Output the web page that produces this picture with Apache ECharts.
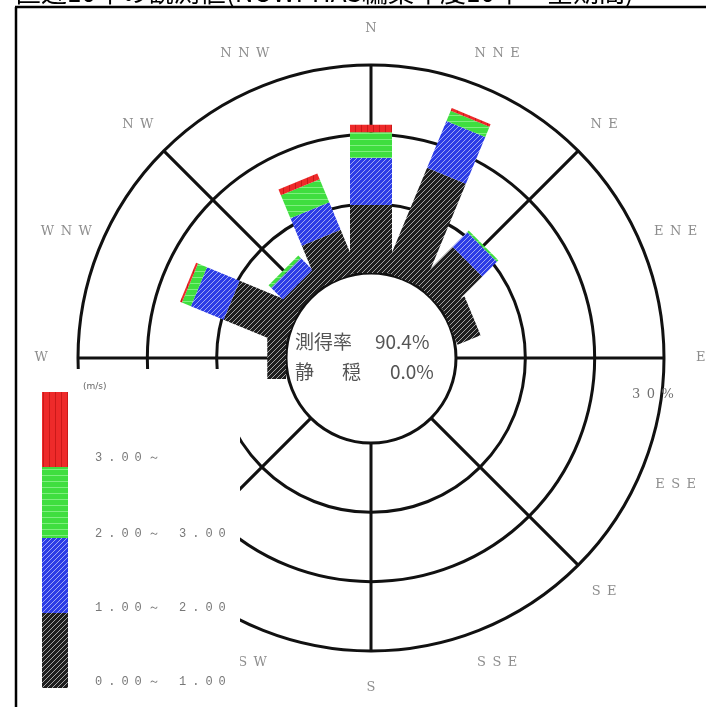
<!DOCTYPE html>
<html>
<head>
<meta charset="utf-8">
<script src="https://cdn.jsdelivr.net/npm/echarts@6/dist/echarts.min.js"></script>
<style>
  html, body { margin: 0; padding: 0; background: #fff; }
  #chart { width: 706px; height: 707px; }
</style>
</head>
<body>
<div id="chart"></div>
<script>
// 16 compass directions, clockwise from north
const directions = ['N', 'NNE', 'NE', 'ENE', 'E', 'ESE', 'SE', 'SSE', 'S', 'SSW', 'SW', 'WSW', 'W', 'WNW', 'NW', 'NNW'];

// Occurrence frequency (%) per direction, one array per wind-speed class (m/s)
const speed0to1  = [9.8, 16.2, 7.4, 3.6, 0, 0, 0, 0, 0, 0, 0, 0, 2.7, 9.5, 2.7, 6.5];
const speed1to2  = [6.8,  7.3, 3.0, 0,   0, 0, 0, 0, 0, 0, 0, 0, 0,   5.1, 2.4, 4.3];
const speed2to3  = [3.7,  1.6, 0.3, 0,   0, 0, 0, 0, 0, 0, 0, 0, 0,   1.4, 0.5, 3.6];
const speed3plus = [1.1,  0.4, 0,   0,   0, 0, 0, 0, 0, 0, 0, 0, 0,   0.3, 0,   0.9];

const speedLabels = ['0.00～ 1.00', '1.00～ 2.00', '2.00～ 3.00', '3.00～'];
const ringTicks = [10, 20, 30];          // percentage rings
const ringLabel = '30%';
const obsRateText = '90.4%';
const calmText = '0.0%';
const titleText = '直近10年の観測値(NOWPHAS編集年度10年・全期間)';

const classValues = [speed0to1, speed1to2, speed2to3, speed3plus];

// hatched fills for the speed classes
function makePattern(bg, fg, kind, size) {
  const s = size || 6;
  const c = document.createElement('canvas');
  c.width = s; c.height = s;
  const g = c.getContext('2d');
  g.fillStyle = bg; g.fillRect(0, 0, s, s);
  g.strokeStyle = fg; g.lineWidth = 1;
  g.beginPath();
  if (kind === 'diag') {
    g.moveTo(0, s); g.lineTo(s, 0);
    g.moveTo(-s / 2, s / 2); g.lineTo(s / 2, -s / 2);
    g.moveTo(s / 2, s * 1.5); g.lineTo(s * 1.5, s / 2);
  } else if (kind === 'vert') {
    g.moveTo(1.5, 0); g.lineTo(1.5, s);
  } else if (kind === 'horiz') {
    g.moveTo(0, 1.5); g.lineTo(s, 1.5);
  }
  g.stroke();
  return { image: c, repeat: 'repeat' };
}
const classFills = [
  makePattern('#1e1e1e', 'rgba(255,255,255,0.6)', 'diag', 5),
  makePattern('#2c3ce6', 'rgba(255,255,255,0.55)', 'diag', 5),
  makePattern('#3fde3f', 'rgba(190,255,190,0.5)', 'horiz'),
  makePattern('#ee2a2a', 'rgba(150,0,0,0.4)', 'vert')
];

// stacked segments: [direction, class, start, end]
const segments = [];
directions.forEach((d, i) => {
  let acc = 0;
  classValues.forEach((arr, k) => {
    const v = arr[i];
    if (v > 0) segments.push([i, k, acc, acc + v]);
    acc += v;
  });
});

const LABEL_RADIUS = 35.3;
const BAR_HALF_WIDTH = 21;
const CENTER = [371, 358];
const RADII = [85, 293];

function spaced(s, sep) { return s.split('').join(sep || '\u2002'); }

const chart = echarts.init(document.getElementById('chart'), null, { renderer: 'canvas' });

const labelFont = { fontFamily: 'DejaVu Serif', fontSize: 13, color: '#707070' };

chart.setOption({
  animation: false,
  backgroundColor: '#fff',
  polar: [
    { center: CENTER, radius: RADII },
    { center: CENTER, radius: RADII }
  ],
  angleAxis: [
    {
      polarIndex: 0, type: 'category', data: directions,
      startAngle: 90 + 360 / 32, clockwise: true, boundaryGap: true,
      axisLine: { show: false }, axisTick: { show: false },
      axisLabel: { show: false }, splitLine: { show: false }
    },
    {
      polarIndex: 1, type: 'value', min: 0, max: 360, interval: 45,
      startAngle: 90, clockwise: true,
      axisLine: { show: false }, axisTick: { show: false }, axisLabel: { show: false },
      splitLine: { show: true, lineStyle: { color: '#111', width: 3 } }
    }
  ],
  radiusAxis: [
    {
      polarIndex: 0, type: 'value', min: 0, max: 30,
      axisLine: { show: false }, axisTick: { show: false },
      axisLabel: { show: false }, splitLine: { show: false }
    },
    {
      polarIndex: 1, type: 'value', min: 0, max: ringTicks[ringTicks.length - 1], interval: ringTicks[0],
      axisLine: { show: false }, axisTick: { show: false }, axisLabel: { show: false },
      splitLine: { show: true, lineStyle: { color: '#111', width: 3 } }
    }
  ],
  series: [
    {
      type: 'custom',
      coordinateSystem: 'polar',
      polarIndex: 0,
      z: 5,
      dimensions: ['dir', 'cls', 'start', 'end'],
      encode: { angle: 0, radius: [2, 3] },
      data: segments,
      renderItem: function (params, api) {
        const dir = api.value(0), cls = api.value(1);
        const v0 = api.value(2), v1 = api.value(3);
        const a = api.coord([v0, dir]);
        const b = api.coord([v1, dir]);
        let ux = b[0] - a[0], uy = b[1] - a[1];
        const len = Math.hypot(ux, uy) || 1;
        ux /= len; uy /= len;
        const px = -uy * BAR_HALF_WIDTH, py = ux * BAR_HALF_WIDTH;
        return {
          type: 'polygon',
          shape: { points: [
            [a[0] + px, a[1] + py], [b[0] + px, b[1] + py],
            [b[0] - px, b[1] - py], [a[0] - px, a[1] - py]
          ] },
          style: { fill: classFills[cls] }
        };
      }
    },
    {
      // direction names around the rose
      type: 'scatter',
      coordinateSystem: 'polar',
      polarIndex: 0,
      clip: false,
      symbolSize: 1,
      itemStyle: { color: 'rgba(0,0,0,0)' },
      silent: true,
      data: directions.map((d, i) => [LABEL_RADIUS, i]),
      label: {
        show: true, position: 'inside',
        formatter: p => spaced(directions[p.data[1]]),
        ...labelFont
      }
    }
  ],
  graphic: [
    // legend panel covers the lower-left of the rose
    { type: 'rect', z: 100, shape: { x: 18, y: 369, width: 222, height: 340 }, style: { fill: '#fff' } },
    // frame
    { type: 'line', z: 120, shape: { x1: 15, y1: 7, x2: 706, y2: 7 }, style: { stroke: '#000', lineWidth: 2.5 } },
    { type: 'line', z: 120, shape: { x1: 16, y1: 7, x2: 16, y2: 707 }, style: { stroke: '#000', lineWidth: 2.5 } },
    // title (runs past the top edge)
    { type: 'text', z: 120, x: 15, y: -21, style: { text: titleText, font: '26px "Noto Sans CJK JP"', fill: '#000', textVerticalAlign: 'top' } },
    // ring scale label
    { type: 'text', z: 110, x: 632, y: 388, style: { text: spaced(ringLabel), font: '13px "DejaVu Serif"', fill: '#707070' } },
    // centre statistics
    { type: 'text', z: 110, x: 295, y: 332, style: { text: '測得率', font: '19px "Noto Sans CJK JP"', fill: '#555' } },
    { type: 'text', z: 110, x: 375, y: 332, style: { text: obsRateText, font: '19px "Noto Sans CJK JP"', fill: '#555' } },
    { type: 'text', z: 110, x: 295, y: 362, style: { text: '静', font: '19px "Noto Sans CJK JP"', fill: '#555' } },
    { type: 'text', z: 110, x: 342, y: 362, style: { text: '穏', font: '19px "Noto Sans CJK JP"', fill: '#555' } },
    { type: 'text', z: 110, x: 390, y: 362, style: { text: calmText, font: '19px "Noto Sans CJK JP"', fill: '#555' } },
    // legend
    { type: 'text', z: 110, x: 83, y: 382, style: { text: '(m/s)', font: '9px "DejaVu Sans"', fill: '#666' } },
    { type: 'rect', z: 110, shape: { x: 42, y: 392, width: 26, height: 75 }, style: { fill: classFills[3] } },
    { type: 'rect', z: 110, shape: { x: 42, y: 467, width: 26, height: 71 }, style: { fill: classFills[2] } },
    { type: 'rect', z: 110, shape: { x: 42, y: 538, width: 26, height: 75 }, style: { fill: classFills[1] } },
    { type: 'rect', z: 110, shape: { x: 42, y: 613, width: 26, height: 75 }, style: { fill: classFills[0] } },
    { type: 'text', z: 110, x: 95, y: 452, style: { text: spaced(speedLabels[3]), font: '12px "Liberation Mono"', fill: '#777' } },
    { type: 'text', z: 110, x: 95, y: 528, style: { text: spaced(speedLabels[2]), font: '12px "Liberation Mono"', fill: '#777' } },
    { type: 'text', z: 110, x: 95, y: 602, style: { text: spaced(speedLabels[1]), font: '12px "Liberation Mono"', fill: '#777' } },
    { type: 'text', z: 110, x: 95, y: 676, style: { text: spaced(speedLabels[0]), font: '12px "Liberation Mono"', fill: '#777' } }
  ]
});
</script>
</body>
</html>
